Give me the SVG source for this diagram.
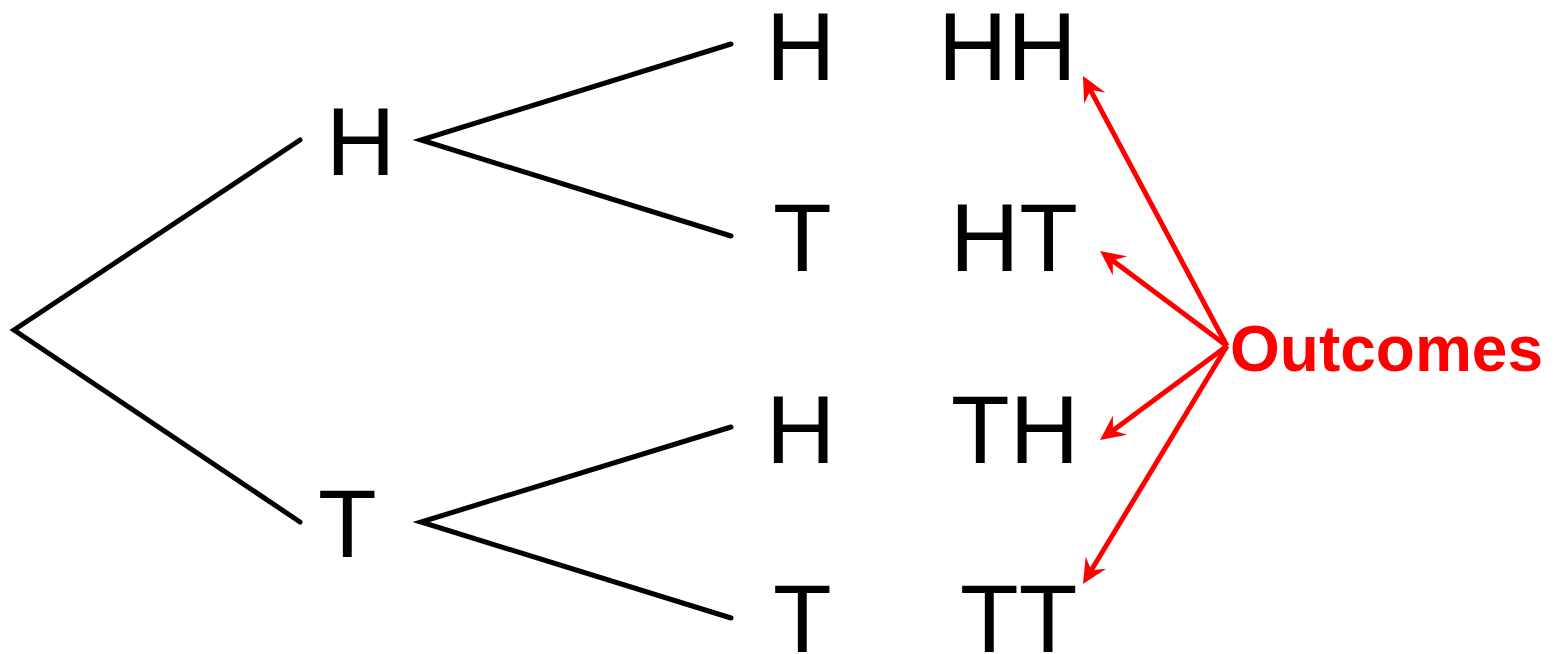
<svg xmlns="http://www.w3.org/2000/svg" width="1556" height="654" viewBox="0 0 1556 654">
<style>
.br{stroke:#000;stroke-width:5;stroke-linecap:round;fill:none}
.ar{stroke:#f00;stroke-width:5;fill:none}
.ah{fill:#f00}
.t{font-family:"Liberation Sans",Arial,sans-serif;font-size:96px;fill:#000}
.o{font-family:"Liberation Sans",Arial,sans-serif;font-size:64px;font-weight:bold;fill:#f00}
</style>
<defs>
<path id="head" class="ah" d="M0,0 L-25,-12 L-16,0 L-25,12 Z"/>
</defs>
<rect width="1556" height="654" fill="#fff"/>
<g id="connectors">
<path class="br" d="M300,140 L14,330 L300,522"/>
<path class="br" d="M731,44 L421,140 L731,236"/>
<path class="br" d="M731,427 L421,522 L731,618"/>
<line class="ar" x1="1227" y1="346" x2="1088.6" y2="86.6"/>
<use href="#head" transform="translate(1083,76) rotate(241.93)"/>
<line class="ar" x1="1227" y1="346" x2="1109.6" y2="258.2"/>
<use href="#head" transform="translate(1100,251) rotate(216.8)"/>
<line class="ar" x1="1227" y1="346" x2="1109.6" y2="432.9"/>
<use href="#head" transform="translate(1100,440) rotate(143.5)"/>
<line class="ar" x1="1227" y1="346" x2="1089.2" y2="573.7"/>
<use href="#head" transform="translate(1083,584) rotate(121.2)"/>
</g>
<g id="n1H"><text class="t" x="326" y="175">H</text></g>
<g id="n1T"><text class="t" x="318" y="557">T</text></g>
<g id="n2H1"><text class="t" x="766" y="80">H</text></g>
<g id="n2T1"><text class="t" x="773" y="271">T</text></g>
<g id="n2H2"><text class="t" x="766" y="463">H</text></g>
<g id="n2T2"><text class="t" x="773" y="652">T</text></g>
<g id="oHH"><text class="t" x="938" y="80">HH</text></g>
<g id="oHT"><text class="t" x="950" y="271">HT</text></g>
<g id="oTH"><text class="t" x="951" y="463">TH</text></g>
<g id="oTT"><text class="t" x="960" y="652">TT</text></g>
<g id="outcomes"><text class="o" x="1230" y="371">Outcomes</text></g>
</svg>
